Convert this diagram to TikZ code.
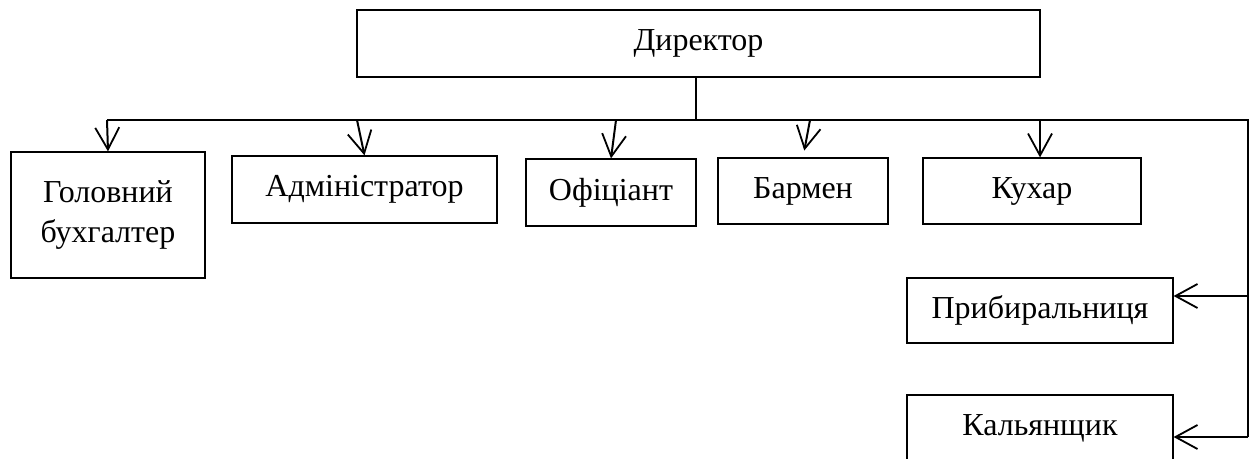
\documentclass[tikz,border=0pt]{standalone}
\usepackage{fontspec}
\setmainfont{Liberation Serif}
\usepackage{tikz}
\usetikzlibrary{arrows.meta}
\usetikzlibrary{positioning}

\tikzset{
  unit/.style={rectangle, draw=black, line width=0.6pt, align=center, inner sep=0pt},
  link/.style={draw=black, line width=1pt},
  down/.style={link, -{Straight Barb[length=11pt, width=12pt, line width=0.9pt]}}
}

\begin{document}
\begin{tikzpicture}[x=0.5pt, y=-0.5pt, font=\fontsize{16}{20}\selectfont]
\clip (0,0) rectangle (1251,459);
\fill [white] (0,0) rectangle (1251,459);

% boxes
\node [unit, minimum width=341.5pt, minimum height=33.5pt] (dir) at (698.5, 43.5) {Директор};
\node [unit, minimum width=97pt, minimum height=63pt] (buh) at (108, 215) {Головний\\бухгалтер};
\node [unit, minimum width=132.5pt, minimum height=33.5pt] (adm) at (364.5, 189.5) {Адміністратор};
\node [unit, minimum width=85pt, minimum height=33.5pt] (ofi) at (611, 192.5) {Офіціант};
\node [unit, minimum width=85pt, minimum height=33pt] (bar) at (803, 191) {Бармен};
\node [unit, minimum width=109pt, minimum height=33pt] (kuh) at (1032, 191) {Кухар};
\node [unit, minimum width=133pt, minimum height=32.5pt] (pry) at (1040, 310.5) {Прибиральниця};
\node [unit, minimum width=133pt, minimum height=33.5pt] (kal) at (1040, 428.5) {Кальянщик};

% bus points
\coordinate (top) at (696, 120);
\coordinate (b1) at (107, 120);
\coordinate (b2) at (357, 120);
\coordinate (b3) at (616, 120);
\coordinate (b4) at (810, 120);
\coordinate (b5) at (1040, 120);
\coordinate (b6) at (1248, 120);
\coordinate (r1) at (1248, 296);
\coordinate (r2) at (1248, 437);

\draw [link] (dir.south -| top) -- (top);
\draw [link] (b1) -- (b6) -- (r2);
\draw [down] (b1) -- (buh.north);
\draw [down] (b2) -- (adm.north);
\draw [down] (b3) -- (ofi.north);
\draw [down, shorten >=3.5pt] (b4) -- (bar.north);
\draw [down] (b5) -- (b5 |- kuh.north);
\draw [down] (r1) -- (r1 -| pry.east);
\draw [down] (r2) -- (r2 -| kal.east);
\end{tikzpicture}
\end{document}
